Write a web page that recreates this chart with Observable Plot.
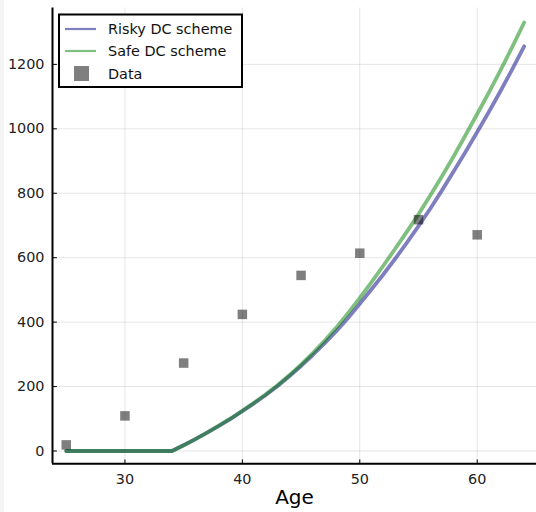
<!DOCTYPE html>
<html>
<head>
<meta charset="utf-8">
<script src="https://cdn.jsdelivr.net/npm/d3@7"></script>
<script src="https://cdn.jsdelivr.net/npm/@observablehq/plot@0.6"></script>
<style>
  html, body { margin: 0; padding: 0; background: #fff; }
  #wrap { position: relative; width: 536px; height: 512px; overflow: hidden; }
  #strip { position: absolute; left: 0; top: 0; width: 4px; height: 512px; background: #f5f5f5; }
  #chart { position: absolute; left: 0; top: 0; }
</style>
</head>
<body>
<div id="wrap"><div id="strip"></div><div id="chart"></div></div>
<script>
// ---- data ----
const ages = [25,26,27,28,29,30,31,32,33,34,35,36,37,38,39,40,41,42,43,44,
              45,46,47,48,49,50,51,52,53,54,55,56,57,58,59,60,61,62,63,64];
const riskyValues = [0,0,0,0,0,0,0,0,0,0,18,37,57,78,100,124,148,174,202,232,
                     264,298,334,372,413,457,502,548,596,646,698,752,809,868,928,990,1053,1118,1186,1256];
const safeValues  = [0,0,0,0,0,0,0,0,0,0,18,37,57,79,101,125,150,176,204,235,
                     268,304,342,383,428,475,524,575,627,680,735,793,853,915,980,1046,1113,1183,1255,1330];
const dataAges   = [25,30,35,40,45,50,55,60];
const dataValues = [19,109,273,424,545,614,718,671];
const seriesNames = ["Risky DC scheme", "Safe DC scheme", "Data"];
const xTicks = [30,40,50,60];
const yTicks = [0,200,400,600,800,1000,1200];
const xDomain = [23.83, 65.05];
const yDomain = [-39.7, 1375];
const xLabel = "Age";

// ---- build ----
const risky = ages.map((a, i) => ({age: a, v: riskyValues[i]}));
const safe = ages.map((a, i) => ({age: a, v: safeValues[i]}));
const pts = dataAges.map((a, i) => ({age: a, v: dataValues[i]}));

const riskyColor = "#000080";
const safeColor = "#008000";
const lineOpacity = 0.5;
const tickShape = {draw(context, l) { context.moveTo(0, 0); context.lineTo(0, -l); }};

const chart = Plot.plot({
  width: 536,
  height: 512,
  marginLeft: 52,
  marginRight: 0,
  marginTop: 7.5,
  marginBottom: 48.7,
  x: {domain: xDomain},
  y: {domain: yDomain},
  style: {fontFamily: "DejaVu Sans", fontSize: "14.4px", color: "#222", background: "transparent", overflow: "visible"},
  marks: [
    Plot.gridX(xTicks, {stroke: "#000", strokeOpacity: 0.1, strokeWidth: 1}),
    Plot.gridY(yTicks, {stroke: "#000", strokeOpacity: 0.1, strokeWidth: 1}),
    Plot.axisX(xTicks, {tickSize: 0, tickPadding: 10, label: null, fontSize: 14.4, tickFormat: d => String(d)}),
    Plot.axisY(yTicks, {tickSize: 0, tickPadding: 8, label: null, fontSize: 14.4, tickFormat: d => String(d)}),
    Plot.vector(xTicks, {x: d => d, frameAnchor: "bottom", rotate: 0, length: 4, anchor: "start", shape: tickShape, stroke: "#000", strokeWidth: 1}),
    Plot.vector(yTicks, {y: d => d, frameAnchor: "left", rotate: 90, length: 4, anchor: "start", shape: tickShape, stroke: "#000", strokeWidth: 1}),
    Plot.line(risky, {x: "age", y: "v", stroke: riskyColor, strokeOpacity: lineOpacity, strokeWidth: 3.8}),
    Plot.line(safe, {x: "age", y: "v", stroke: safeColor, strokeOpacity: lineOpacity, strokeWidth: 3.8}),
    Plot.dot(pts, {x: "age", y: "v", symbol: "square", r: 5.36, fill: "#000", fillOpacity: 0.5, stroke: "none"}),
    Plot.ruleX([xDomain[0]], {stroke: "#000", strokeWidth: 2}),
    Plot.ruleY([yDomain[0]], {stroke: "#000", strokeWidth: 2}),
    Plot.text([xLabel], {frameAnchor: "bottom", dy: 40.5, fontSize: 20, fill: "#000"})
  ]
});

// ---- legend (inside the SVG) ----
const svg = d3.select(chart);
const lg = svg.append("g").attr("font-family", "DejaVu Sans").attr("font-size", 14.4).attr("text-anchor", "start");
lg.append("rect").attr("x", 59).attr("y", 14.5).attr("width", 183).attr("height", 72.5)
  .attr("fill", "#fff").attr("stroke", "#000").attr("stroke-width", 2);
const rows = [29, 51, 73.5];
lg.append("line").attr("x1", 65).attr("x2", 96).attr("y1", rows[0]).attr("y2", rows[0])
  .attr("stroke", riskyColor).attr("stroke-opacity", lineOpacity).attr("stroke-width", 2.2);
lg.append("line").attr("x1", 65).attr("x2", 96).attr("y1", rows[1]).attr("y2", rows[1])
  .attr("stroke", safeColor).attr("stroke-opacity", lineOpacity).attr("stroke-width", 2.2);
lg.append("rect").attr("x", 74).attr("y", rows[2] - 7.5).attr("width", 15).attr("height", 15)
  .attr("fill", "#000").attr("fill-opacity", 0.5);
seriesNames.forEach((name, i) => {
  lg.append("text").attr("x", 108).attr("y", rows[i]).attr("dy", "0.36em")
    .attr("text-anchor", "start").attr("fill", "#111").text(name);
});

document.getElementById("chart").appendChild(chart);
</script>
</body>
</html>
